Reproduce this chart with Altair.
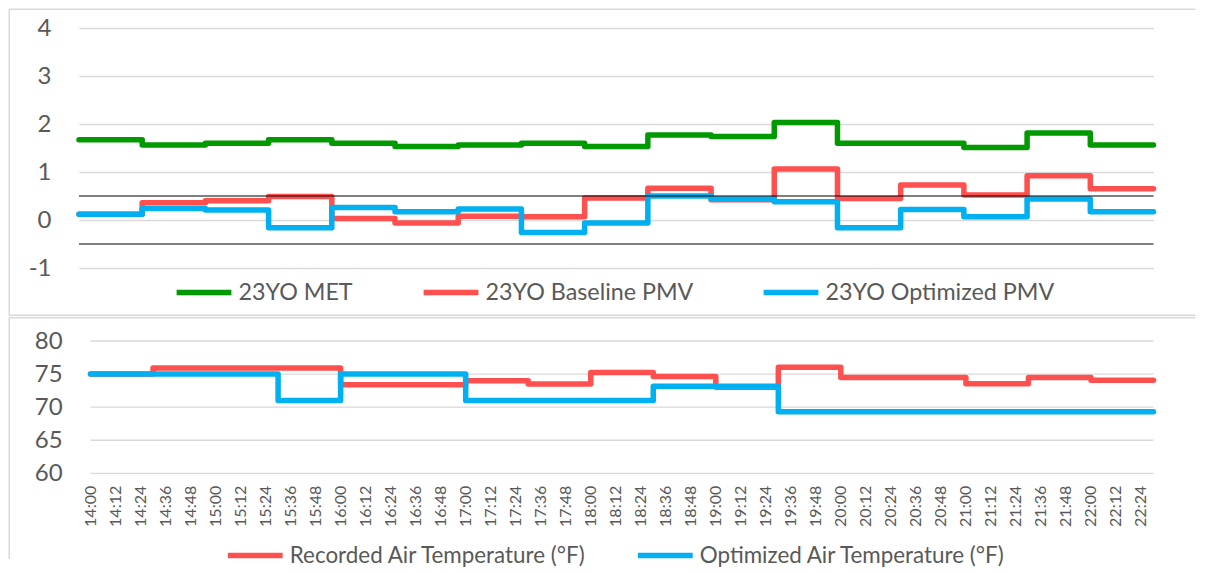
import altair as alt
import pandas as pd

# ---------------- data ----------------
segment_starts = ["14:00", "14:30", "15:00", "15:30", "16:00", "16:30", "17:00", "17:30",
                  "18:00", "18:30", "19:00", "19:30", "20:00", "20:30", "21:00", "21:30", "22:00"]
end_time = "22:30"

met = [1.67, 1.56, 1.60, 1.67, 1.60, 1.53, 1.56, 1.60, 1.53, 1.77, 1.74, 2.03, 1.60, 1.60, 1.51, 1.81, 1.56]
baseline_pmv = [0.12, 0.36, 0.40, 0.49, 0.03, -0.06, 0.08, 0.07, 0.46, 0.66, 0.42, 1.06, 0.45, 0.73, 0.52, 0.92, 0.65]
optimized_pmv = [0.12, 0.24, 0.21, -0.16, 0.26, 0.17, 0.23, -0.26, -0.06, 0.50, 0.44, 0.38, -0.16, 0.22, 0.07, 0.44, 0.17]

recorded_temp = [75.0, 75.9, 75.9, 75.9, 73.4, 73.4, 74.0, 73.5, 75.25, 74.65, 73.0, 76.05, 74.5, 74.5, 73.55, 74.5, 74.05]
optimized_temp = [75.0, 75.0, 75.0, 71.0, 75.0, 75.0, 71.0, 71.0, 71.0, 73.15, 73.15, 69.3, 69.3, 69.3, 69.3, 69.3, 69.3]

comfort_band = [0.5, -0.5]
pmv_ticks = [-1, 0, 1, 2, 3, 4]
temp_ticks = [60, 65, 70, 75, 80]
time_ticks = ["14:00", "14:12", "14:24", "14:36", "14:48", "15:00", "15:12", "15:24", "15:36", "15:48",
              "16:00", "16:12", "16:24", "16:36", "16:48", "17:00", "17:12", "17:24", "17:36", "17:48",
              "18:00", "18:12", "18:24", "18:36", "18:48", "19:00", "19:12", "19:24", "19:36", "19:48",
              "20:00", "20:12", "20:24", "20:36", "20:48", "21:00", "21:12", "21:24", "21:36", "21:48",
              "22:00", "22:12", "22:24"]

pmv_names = ["23YO MET", "23YO Baseline PMV", "23YO Optimized PMV"]
pmv_colors = ["#009900", "#FF5050", "#00B0F0"]
temp_names = ["Recorded Air Temperature (°F)", "Optimized Air Temperature (°F)"]
temp_colors = ["#FF5050", "#00B0F0"]

DAY = "2024-01-01T"
FONT = "Lato"
TXT = "#595959"
GRID = "#D9D9D9"


def dt(t):
    h, m = t.split(":")
    return alt.DateTime(year=2024, month=1, date=1, hours=int(h), minutes=int(m))


def series_frame(name, values):
    times = [DAY + t for t in segment_starts] + [DAY + end_time]
    vals = list(values) + [values[-1]]
    return pd.DataFrame({"time": times, "value": vals, "series": [name] * len(vals)})


x_domain = [dt(segment_starts[0]), dt(end_time)]
one_row = alt.Data(values=[{"a": 1}])


def frame_edges(x, x2, y, y2, bottom_edge):
    rule = dict(color=GRID, strokeWidth=1.5)
    layers = [
        alt.Chart(one_row).mark_rule(**rule).encode(x=alt.value(x), y=alt.value(y), y2=alt.value(y2)),
        alt.Chart(one_row).mark_rule(**rule).encode(x=alt.value(x), x2=alt.value(x2), y=alt.value(y)),
    ]
    if bottom_edge:
        layers.append(alt.Chart(one_row).mark_rule(**rule).encode(
            x=alt.value(x), x2=alt.value(x2), y=alt.value(y2)))
    return layers


def legend(x, y, pad, size):
    return alt.Legend(title=None, orient="none", legendX=x, legendY=y,
                      direction="horizontal", symbolType="stroke",
                      symbolSize=3000, symbolStrokeWidth=5.5,
                      labelFont=FONT, labelFontSize=size, labelColor=TXT, labelLimit=600,
                      columnPadding=pad, labelOffset=4, padding=0)


W = 1074.5            # plot width shared by both panels (left edge of top plot)
BOT_LEFT = 11.5       # bottom panel's plot starts a little further right

# ---------------- top panel ----------------
TH = 240
y_top = alt.Y("value:Q", scale=alt.Scale(domain=[-1, 4], nice=False),
              axis=alt.Axis(values=pmv_ticks, title=None, domain=False, ticks=False,
                            labelFont=FONT, labelFontSize=24, labelColor=TXT, labelPadding=28,
                            labelExpr="'' + datum.value", gridColor=GRID, gridWidth=1.3))
x_top = alt.X("time:T", scale=alt.Scale(domain=x_domain), axis=None)
color_top = alt.Color("series:N", scale=alt.Scale(domain=pmv_names, range=pmv_colors),
                      legend=legend(94.5, 234, 59, 23.3))

top_layers = frame_edges(-69.75, 1116.5, -18.8, 287.2, True)
for name, vals in zip(pmv_names, [met, baseline_pmv, optimized_pmv]):
    top_layers.append(
        alt.Chart(series_frame(name, vals)).mark_line(
            interpolate="step-after", strokeWidth=5.5, strokeCap="round", strokeJoin="round"
        ).encode(x=x_top, y=y_top, color=color_top)
    )
band = alt.Chart(pd.DataFrame({"value": comfort_band})).mark_rule(
    color="#000000", strokeWidth=1.2).encode(y=y_top)
top_layers.append(band)

top = alt.layer(*top_layers).properties(width=W, height=TH)

# ---------------- bottom panel ----------------
BH = 132.3
y_bot = alt.Y("value:Q", scale=alt.Scale(domain=[60, 80], nice=False),
              axis=alt.Axis(values=temp_ticks, title=None, domain=False, ticks=False, grid=False,
                            labelFont=FONT, labelFontSize=24, labelColor=TXT, labelPadding=16.8))
x_bot = alt.X("time:T", scale=alt.Scale(domain=x_domain, range=[BOT_LEFT, W]),
              axis=alt.Axis(values=[dt(t) for t in time_ticks], format="%H:%M", title=None,
                            labelAngle=270, labelFont=FONT, labelFontSize=16, labelColor=TXT,
                            labelPadding=12, ticks=False, domain=False, grid=False,
                            labelOverlap=False))
color_bot = alt.Color("series:N", scale=alt.Scale(domain=temp_names, range=temp_colors),
                      legend=legend(145.8, 184, 40, 22.4))

bot_layers = frame_edges(-69.75, 1116.5, -23.3, 218, False)
bot_grid = alt.Chart(pd.DataFrame({"value": temp_ticks})).mark_rule(
    color=GRID, strokeWidth=1.3).encode(y=y_bot, x=alt.value(BOT_LEFT), x2=alt.value(W))
bot_layers.append(bot_grid)
for name, vals in zip(temp_names, [recorded_temp, optimized_temp]):
    bot_layers.append(
        alt.Chart(series_frame(name, vals)).mark_line(
            interpolate="step-after", strokeWidth=5.5, strokeCap="round", strokeJoin="round"
        ).encode(x=x_bot, y=y_bot, color=color_bot)
    )

bottom = alt.layer(*bot_layers).properties(width=W, height=BH)

chart = alt.vconcat(top, bottom, spacing=0).resolve_scale(color="independent").properties(
    padding=0, background="white"
).configure_view(strokeWidth=0)

chart.save("out.html", embed_options={"renderer": "svg", "actions": False})
